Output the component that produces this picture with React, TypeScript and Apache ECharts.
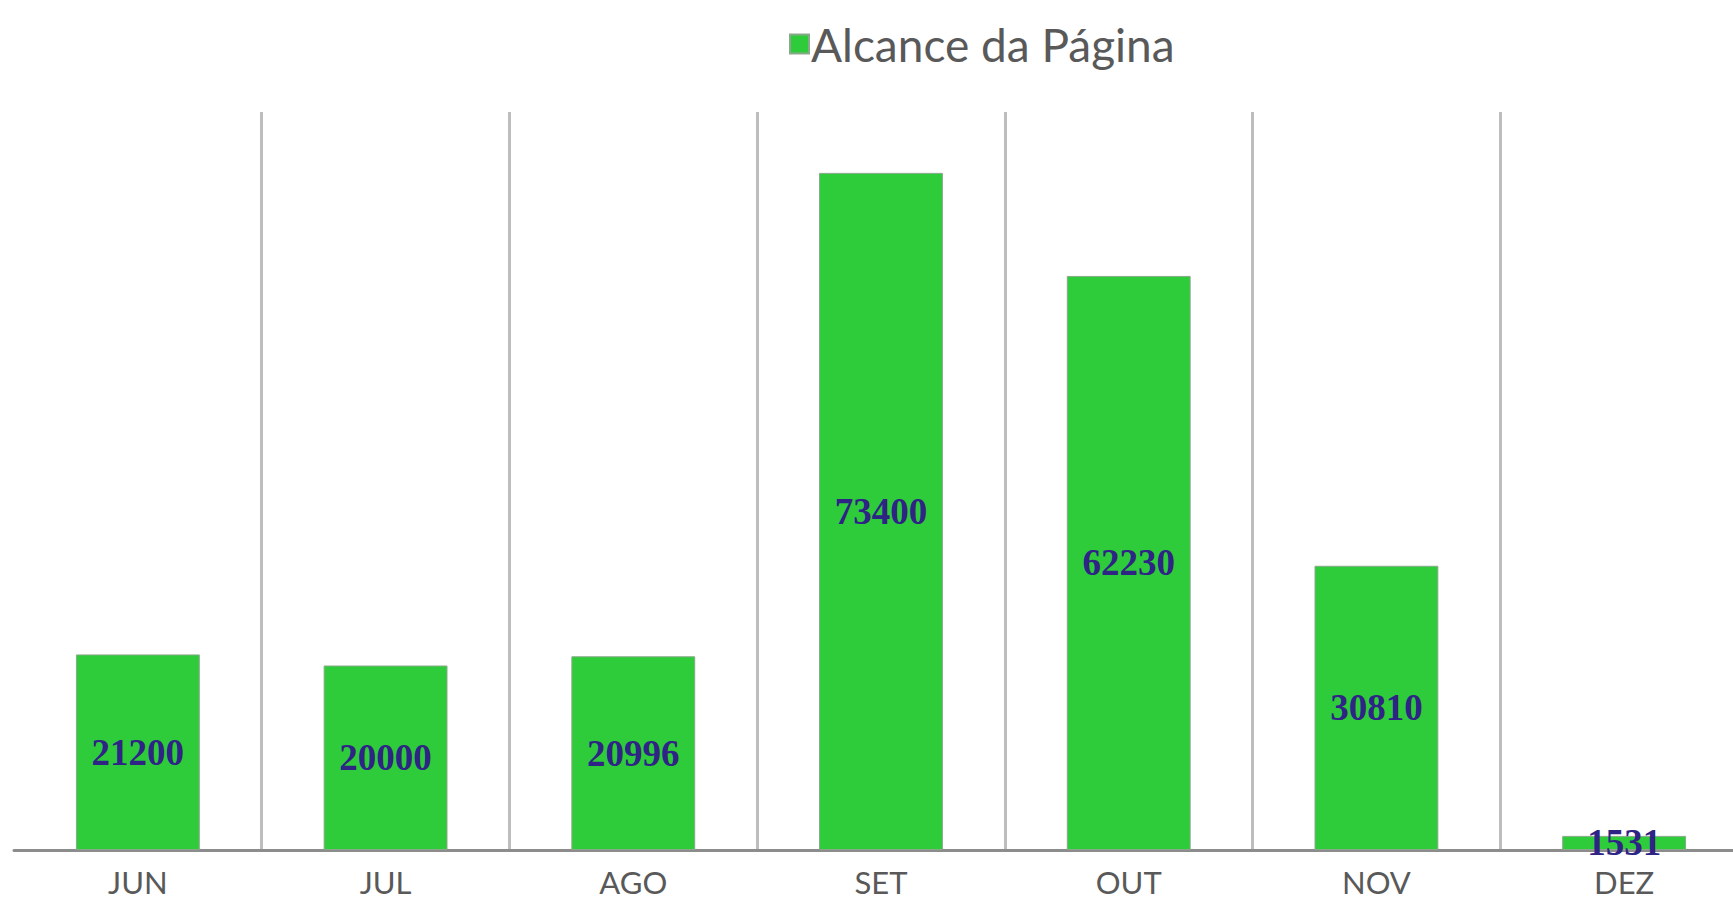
import React, { useEffect, useRef } from "react";
import * as echarts from "echarts";

const categories = ["JUN", "JUL", "AGO", "SET", "OUT", "NOV", "DEZ"];
const seriesName = "Alcance da Página";
const values = [21200, 20000, 20996, 73400, 62230, 30810, 1531];

export default function App() {
  const ref = useRef<HTMLDivElement>(null);
  useEffect(() => {
    document.body.style.margin = "0";
    const chart = echarts.init(ref.current!, null, { renderer: "svg" });
    chart.setOption({
      animation: false,
      backgroundColor: "#ffffff",
      legend: {
        data: [seriesName],
        left: 784,
        top: 16,
        icon: "rect",
        itemWidth: 19,
        itemHeight: 19,
        itemGap: 4,
        textStyle: { color: "#595959", fontSize: 46, fontFamily: "Lato", padding: [0, 0, 0, -3] },
      },
      grid: { left: 14, right: 0, top: 112, bottom: 53 },
      xAxis: {
        type: "category",
        data: categories,
        axisLine: { lineStyle: { color: "#8c8c8c", width: 3 } },
        axisTick: { show: false },
        axisLabel: {
          color: "#595959",
          fontSize: 31,
          fontFamily: "Lato",
          lineHeight: 28,
          margin: 18,
        },
        splitLine: {
          show: true,
          showMinLine: false,
          showMaxLine: false,
          lineStyle: { color: "#bdbdbd", width: 3 },
        },
      },
      yAxis: {
        type: "value",
        min: 0,
        max: 80000,
        show: false,
        splitLine: { show: false },
      },
      series: [
        {
          name: seriesName,
          type: "bar",
          data: values,
          barWidth: "50%",
          itemStyle: { color: "#2ecc3a", borderColor: "#8aa88a", borderWidth: 1 },
          label: {
            show: true,
            position: "inside",
            color: "#2f2385",
            fontSize: 37,
            fontWeight: "bold",
            fontFamily: "Liberation Serif",
          },
        },
      ],
    });
    return () => chart.dispose();
  }, []);
  return (
    <div style={{ position: "fixed", left: 0, top: 0, width: 1733, height: 903, overflow: "hidden", background: "#fff" }}>
      <div ref={ref} style={{ width: 1748, height: 903 }} />
    </div>
  );
}
